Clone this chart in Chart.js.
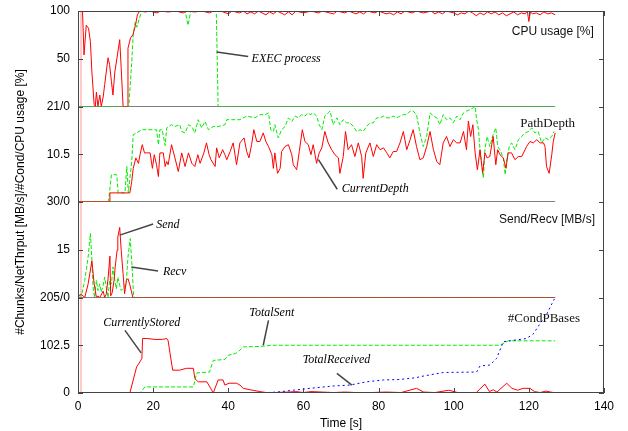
<!DOCTYPE html>
<html>
<head>
<meta charset="utf-8">
<script src="https://cdn.jsdelivr.net/npm/chart.js@4.4.1/dist/chart.umd.min.js"></script>
<style>
  html, body { margin: 0; padding: 0; background: #fff; }
  canvas { display: block; }
</style>
</head>
<body>
<canvas id="chart" width="628" height="431"></canvas>
<script>
// x axis
const timeRange = [0, 140];
const timeStep = 20;

// panel ranges (bottom to top) and their tick labels, lowest tick first
const storeRange = [0, 205];
const sendRange = [0, 30];
const depthRange = [0, 21];
const cpuRange = [0, 100];
const storeTickLabels = ['0', '102.5', ''];
const sendTickLabels = ['205/0', '15', ''];
const depthTickLabels = ['30/0', '10.5', ''];
const cpuTickLabels = ['21/0', '50', '100'];

// series, [time s, value]
const cpuUsage = [
  [0.8,100],[1.2,100],[1.6,54],[2.2,85],[2.8,82],[3.3,68],[3.7,36],[4.3,2],[4.6,0],[4.9,15],[5.3,0],[5.8,12],
  [6.2,0],[6.7,10],[7.1,23],[8,51],[8.4,44],[8.9,26],[9.3,12],[9.8,36],[10.5,54],[11.1,70],[11.5,40],[12,0],
  [13.2,0],[13.3,61],[14,72],[14.6,75],[15.3,85],[15.8,96],[16.4,100],[18,99],[19,100],[21,98],[22,100],
  [24,99],[26,100],[28,98],[29,100],[31,99],[33,100],[35,98],[36,100],[38,100],[40,97],[41,100],[43,98],
  [44,100],[45,97],[46,99],[47,97],[48,100],[50,96],[51,99],[52,97],[53,100],[55,96],[56,99],[57,96],
  [58,100],[60,98],[62,100],[64,98],[65,100],[67,98],[68,97],[69,100],[71,98],[72,100],[74,97],[75,99],
  [76,97],[77,100],[79,98],[80,100],[82,97],[83,98],[84,96],[85,99],[86,97],[87,100],[89,98],[90,100],
  [92,98],[94,100],[95,97],[96,99],[97,97],[98,100],[100,98],[101,96],[102,98],[103,97],[104,100],[105,98],
  [106,95],[107,98],[108,96],[109,99],[110,97],[111,99],[112,96],[113,98],[114,95],[115,97],[116,99],
  [117,96],[118,98],[119,97],[119.6,100],[120,89],[120.4,99],[121,97],[122,98],[123,96],[124,99],[125,97],
  [126,98],[127,96]
];
const execProcess = [
  [0,0],[13.5,0],[14.2,40],[14.7,75],[15.2,88],[15.7,83],[16.3,92],[17,100],[28.5,100],[29.3,85],[30,100],
  [36.8,100],[37.3,0],[127,0]
];
const currentDepth = [
  [0,0],[8.5,0],[8.5,2],[13.8,2],[14.3,4.5],[14.7,7.4],[15.4,9.7],[16.1,8.5],[16.5,10.4],[17.1,12.6],
  [17.7,10.8],[18.3,10.8],[19.2,10.8],[19.8,7.4],[20.3,10.4],[20.9,8.2],[21.4,5.6],[21.8,10.8],[22.7,10.8],
  [23.2,7.8],[23.6,8.9],[24,8.2],[24.9,12.6],[25.8,9.7],[26.7,6.7],[27.6,10.8],[28.5,7.8],[29.4,10.8],
  [30.3,8.5],[31.1,7.8],[31.9,10.4],[32.5,8.5],[33.5,10.8],[34.2,13],[34.9,10.4],[35.4,9.3],[36.5,7.8],
  [36.9,11.9],[37.6,9.7],[38.5,11.5],[39.1,10.4],[39.6,9.3],[40.5,11.1],[41.3,13],[42.2,8.2],[43.1,13],
  [44.2,14.1],[44.9,11.1],[45.5,9.7],[46.2,12.6],[46.8,15.9],[47.6,13.3],[48.4,13.3],[49.3,15.2],[50,13.3],
  [50.7,12.2],[51.6,10.4],[52,7.4],[52.4,10.8],[53.1,6.3],[53.8,7.4],[54.2,11.1],[55.1,12.2],[56,12.6],
  [56.9,10.4],[57.3,8.2],[58.2,7.1],[58.9,11.1],[59.7,15.9],[60.4,13.3],[61.3,12.6],[62,10.4],[62.6,12.6],
  [63.5,8.5],[64.2,10.8],[64.9,11.9],[65.7,15.5],[66.6,13],[67.5,11.5],[68.4,10.4],[69.3,9.7],[69.7,6.3],
  [70.6,10],[71.2,15.5],[71.9,11.5],[72.8,12.6],[73.7,10],[74.6,13],[75.5,10],[75.9,5.2],[76.6,10.8],
  [77.7,13],[78.6,10],[79.5,12.6],[80.4,11.5],[81.3,11.9],[82.2,10.8],[83,9.7],[83.9,11.1],[84.8,11.1],
  [85.7,13],[86.6,15.5],[87.5,11.5],[88.4,13.7],[89.2,15.9],[90.1,12.2],[91,9.3],[91.9,9.7],[92.8,12.2],
  [93.7,15.5],[94.6,11.5],[95.5,8.9],[96.3,8.2],[97.2,13],[98.1,14.4],[99,12.2],[99.9,13.7],[100.8,13],
  [101.7,13],[102.6,15.5],[103.4,11.5],[103.9,17.8],[104.5,14.4],[105.1,17],[105.7,10.8],[106.3,7.1],
  [107,11.5],[107.7,6.3],[108.3,10.8],[108.9,9.7],[109.6,10],[110.5,14.4],[111.2,8.2],[111.7,11.5],
  [112.3,10.4],[113.2,9.7],[113.9,7.4],[114.5,10.8],[115.4,10.8],[116.3,9.3],[117.2,10],[118.1,10],
  [119.4,12.2],[120.3,13.3],[121.2,13],[122.1,13.7],[123,13],[123.9,13],[124.3,12.2],[124.7,7.8],
  [125.4,6.3],[126.1,10.4],[126.5,13.3],[127,15.2]
];
const pathDepth = [
  [0,0],[8.1,0],[8.9,6],[10.3,6],[10.7,2],[12.5,2],[13,7.8],[13.4,2],[14.3,8.9],[14.7,14.8],[15.6,15.2],
  [17,15.9],[20.9,15.9],[21.4,12.6],[21.8,15.9],[22.4,15.9],[23.2,12.4],[23.6,16.3],[24.9,17],[25.8,16.6],
  [27.1,17],[27.6,15.5],[28.5,15.2],[29.4,17],[30.3,16.6],[31.1,15.2],[32,18.1],[32.9,16.3],[33.8,17.7],
  [34.7,15.9],[36,16.6],[37.4,16.6],[39.1,17],[39.6,18.1],[43.1,18.1],[44.9,18.9],[47.1,18.5],[48.4,19.2],
  [49.8,19.2],[50.7,19.6],[51.3,15.9],[52,15.5],[52.4,17],[53.3,14.1],[54.2,15.9],[55.1,16.6],[56,18.5],
  [56.9,17.7],[57.8,18.9],[58.7,18.5],[59.5,19.2],[60.4,18.9],[61.3,19.6],[61.8,19.2],[62.6,19.6],
  [63.5,18.9],[64.2,17],[64.9,15.9],[65.7,18.9],[66.6,19.6],[67.1,20],[67.9,17],[68.9,18.5],[69.7,17],
  [70.6,18.1],[71.5,17.4],[72.4,17.4],[73.3,16.6],[74.2,15.5],[75.1,15.9],[75.9,15.5],[76.8,16.6],
  [77.7,17.4],[78.6,17.4],[79.5,18.5],[80.4,18.5],[81.3,18.9],[82.2,18.5],[83,18.5],[83.9,18.9],
  [84.8,18.5],[85.7,18.9],[86.6,19.2],[87.5,19.2],[88.4,20],[89.2,20],[90.1,19.2],[91,15.2],[91.9,12.2],
  [92.8,14.4],[93.7,19.6],[94.6,18.9],[95.5,18.5],[96.3,17],[97.2,19.2],[98.1,18.1],[99,18.5],[99.9,17.4],
  [100.8,18.9],[101.7,18.1],[102.6,19.6],[103.4,20],[104.3,20.3],[105.2,20.7],[105.7,21],[106.1,18.1],
  [106.6,15.9],[107,11.5],[107.5,7.8],[107.9,5.2],[108.3,11.5],[108.9,14.4],[109.6,12.2],[110.5,14.8],
  [111.2,16.3],[111.7,12.2],[112.3,11.5],[113.2,9.7],[113.7,6],[114.1,9.3],[114.8,12.2],[115.4,13],
  [116.3,11.5],[117.2,13.7],[118.1,14.4],[119,15.2],[119.9,15.5],[120.8,16.3],[121.6,15.2],[122.5,15.5],
  [123.4,13],[124.3,14.1],[125.2,13.7],[126.1,14.4],[126.7,15.5]
];
const sendRate = [
  [0,0.5],[0.9,1],[1.8,0],[2.7,4.3],[3.7,11.5],[4.3,4.3],[4.9,0],[5.3,0.5],[5.8,0],[6.7,2],[7.1,0],[7.5,1],
  [8,5.9],[8.5,13],[8.7,0.5],[9.1,1.5],[9.6,5.4],[9.9,9.6],[10.4,14.8],[10.6,19],[11.1,22],[11.5,14.8],
  [12,7.5],[12.4,1.2],[12.9,5.4],[13.3,5.9],[13.8,4],[14.2,2],[14.6,0],[127,0]
];
const recvRate = [
  [0,0.5],[0.9,0.5],[1.8,5.4],[2.7,12.7],[3.3,20.1],[3.7,11.7],[4,3.3],[4.4,0],[4.9,5.4],[5.3,2.2],[5.8,4.3],
  [6.2,1.7],[6.7,3.8],[7.1,6.4],[7.5,3.3],[8,0],[8.4,5.4],[8.9,4.3],[9.3,9.6],[9.8,5.4],[10.2,2.7],[10.6,6.4],
  [11.1,3.8],[11.5,2.2],[12.4,3.3],[12.9,5.4],[13.3,12.7],[13.9,18.5],[14.4,9.6],[14.8,0.3],[15.2,0],[127,0]
];
const currentlyStored = [
  [0,0],[13.8,0],[14.7,28],[15.6,56],[16.5,67],[17,74],[17.2,117],[18.3,117],[20.5,115],[22.5,115],
  [23.6,117],[24,112],[24.5,85],[25.2,49],[27,49],[28.9,53],[30.7,53],[31.1,31],[32,24],[34.3,24],[35.1,13],
  [36,0],[37.3,28],[38.6,28],[39.1,17],[40.2,21],[42.2,21],[43.1,17],[44,10],[45.8,7],[48.4,3],[50.1,1],
  [52,1],[56,2],[58,3],[60,1],[62,3],[65,2],[68,1],[71,2],[74,1],[78,1],[82,2],[86,1],[90.1,10],[92,2],
  [95,1],[98.7,6],[101,1],[104,1],[106,1],[108.3,19],[109.5,3],[110.5,7],[111.5,2],[114.1,21],[115.5,10],
  [117,6],[118.5,10],[120.3,10],[121.5,3],[123,1],[124.5,4],[126.5,1],[127,0]
];
const totalSent = [
  [0,0],[16.5,0],[17.8,13],[30.7,13],[31.6,43],[35,45],[36,70],[39.1,72],[40,81],[42,85],[43.1,92],[44,99],
  [48.4,100],[50,101],[51.6,102.5],[112.3,102.5],[114.5,112],[127,112]
];
const totalReceived = [
  [0,0],[48,0],[53,2],[57.3,6],[61.7,10],[67.9,15],[72.4,17],[76.8,24],[81.3,28],[85.7,29],[90.1,33],[91,35],
  [97.2,44],[106.1,45],[107,58],[109.6,60],[111.4,74],[113.2,110],[115,112],[119.4,117],[121.2,127],
  [123,149],[124.8,170],[126.1,191],[126.8,202]
];
const traceEnd = 127;   // panel base lines run to the end of the trace
const startMarker = 0.8; // thin vertical line at trace start

const sans = '"Liberation Sans", Arial, sans-serif';
const serif = '"Liberation Serif", "Times New Roman", serif';

// labelled arrows, in data coordinates of their panel
const notes = [
  { text: 'EXEC process', axis: 'yCpu', at: [46.2, 50], from: [36.9, 57], to: [45.3, 52.4] },
  { text: 'CurrentDepth', axis: 'yDepth', at: [70.2, 3.0], from: [64, 9.3], to: [69, 2.8] },
  { text: 'Send', axis: 'ySend', at: [20.8, 22.7], from: [11.1, 19.6], to: [20, 23.1] },
  { text: 'Recv', axis: 'ySend', at: [22.6, 8], from: [14.2, 9.6], to: [21.3, 8.3] },
  { text: 'CurrentlyStored', axis: 'yStore', at: [6.7, 150], from: [12.5, 134.5], to: [16.8, 86] },
  { text: 'TotalSent', axis: 'yStore', at: [45.6, 171], from: [50.7, 156], to: [49.3, 102.5] },
  { text: 'TotalReceived', axis: 'yStore', at: [59.8, 72], from: [68.9, 42], to: [72.9, 17] }
];
const panelKeys = [
  { text: 'CPU usage [%]', axis: 'yCpu', at: [137.3, 78], font: '12px ' + sans },
  { text: 'PathDepth', axis: 'yDepth', at: [132.3, 17.2], font: '13px ' + serif },
  { text: 'Send/Recv [MB/s]', axis: 'ySend', at: [137.6, 24.3], font: '12px ' + sans },
  { text: '#CondPBases', axis: 'yStore', at: [133.6, 160], font: '13px ' + serif }
];

const toPoints = pairs => pairs.map(([x, y]) => ({ x, y }));

function series(pairs, axis, color, dash) {
  return {
    data: toPoints(pairs),
    yAxisID: axis,
    borderColor: color,
    borderWidth: 1,
    borderDash: dash || [],
    pointRadius: 0,
    fill: false,
    tension: 0
  };
}

const RED = '#ff0000';
const GREEN = '#00ee00';
const BLUE = '#0000ff';
const GDASH = [4, 2];
const BDASH = [2, 3];

const panels = [
  { id: 'yStore', range: storeRange, labels: storeTickLabels },
  { id: 'ySend', range: sendRange, labels: sendTickLabels },
  { id: 'yDepth', range: depthRange, labels: depthTickLabels },
  { id: 'yCpu', range: cpuRange, labels: cpuTickLabels }
];

const datasets = [
  series(cpuUsage, 'yCpu', RED),
  series(execProcess, 'yCpu', GREEN, GDASH),
  series(currentDepth, 'yDepth', RED),
  series(pathDepth, 'yDepth', GREEN, GDASH),
  series(sendRate, 'ySend', RED),
  series(recvRate, 'ySend', GREEN, GDASH),
  series(totalReceived, 'yStore', BLUE, BDASH),
  series(currentlyStored, 'yStore', RED),
  series(totalSent, 'yStore', GREEN, GDASH)
];
// black base line of each upper panel
['yCpu', 'yDepth', 'ySend'].forEach(id => {
  datasets.push(series([[0, 0], [traceEnd, 0]], id, '#000000'));
});
// start marker through every panel
panels.forEach(p => {
  datasets.push(series([[startMarker, p.range[0]], [startMarker, p.range[1]]], p.id, 'rgba(255,80,80,0.6)'));
});

const scales = {
  x: {
    type: 'linear',
    min: timeRange[0],
    max: timeRange[1],
    grid: { display: false, drawTicks: false },
    border: { display: false },
    ticks: { stepSize: timeStep, padding: 6, color: '#000', font: { family: sans, size: 12 } },
    title: { display: true, text: 'Time [s]', color: '#000', padding: { top: 0, bottom: 0 }, font: { family: sans, size: 12 } },
    afterFit: s => { s.height = 38; s.paddingLeft = 0; s.paddingRight = 0; }
  }
};
panels.forEach(p => {
  scales[p.id] = {
    type: 'linear',
    position: 'left',
    stack: 'panels',
    stackWeight: 1,
    min: p.range[0],
    max: p.range[1],
    grid: { display: false, drawTicks: false },
    border: { display: false },
    ticks: {
      stepSize: (p.range[1] - p.range[0]) / 2,
      padding: 8,
      color: '#000',
      font: { family: sans, size: 12 },
      callback: (v, i) => p.labels[i]
    },
    afterFit: s => { s.width = 78; s.paddingTop = 0; s.paddingBottom = 0; }
  };
});

const framePlugin = {
  id: 'frame',
  afterDatasetsDraw(chart) {
    const { ctx, chartArea: a } = chart;
    ctx.save();
    ctx.strokeStyle = '#444';
    ctx.lineWidth = 1;
    ctx.strokeRect(a.left + 0.5, a.top + 0.5, a.right - a.left - 1, a.bottom - a.top - 1);
    // inward tick marks
    ctx.beginPath();
    panels.forEach(p => {
      const sc = chart.scales[p.id];
      sc.ticks.forEach(t => {
        const y = Math.round(sc.getPixelForValue(t.value)) + 0.5;
        ctx.moveTo(a.left, y); ctx.lineTo(a.left + 5, y);
        ctx.moveTo(a.right - 5, y); ctx.lineTo(a.right, y);
      });
    });
    const xs = chart.scales.x;
    xs.ticks.forEach(t => {
      const x = Math.round(xs.getPixelForValue(t.value)) + 0.5;
      ctx.moveTo(x, a.bottom); ctx.lineTo(x, a.bottom - 5);
      ctx.moveTo(x, a.top); ctx.lineTo(x, a.top + 5);
    });
    ctx.stroke();

    // labels and arrows
    ctx.fillStyle = '#000';
    ctx.textBaseline = 'middle';
    notes.forEach(n => {
      const sc = chart.scales[n.axis];
      ctx.beginPath();
      ctx.lineWidth = 1.5;
      ctx.moveTo(xs.getPixelForValue(n.from[0]), sc.getPixelForValue(n.from[1]));
      ctx.lineTo(xs.getPixelForValue(n.to[0]), sc.getPixelForValue(n.to[1]));
      ctx.stroke();
      ctx.font = 'italic 12px ' + serif;
      ctx.textAlign = 'left';
      ctx.fillText(n.text, xs.getPixelForValue(n.at[0]), sc.getPixelForValue(n.at[1]));
    });
    panelKeys.forEach(k => {
      const sc = chart.scales[k.axis];
      ctx.font = k.font;
      ctx.textAlign = 'right';
      ctx.fillStyle = '#111';
      ctx.fillText(k.text, xs.getPixelForValue(k.at[0]), sc.getPixelForValue(k.at[1]));
    });

    // shared y title
    ctx.translate(21, (a.top + a.bottom) / 2);
    ctx.rotate(-Math.PI / 2);
    ctx.font = '12px ' + sans;
    ctx.textAlign = 'center';
    ctx.fillStyle = '#000';
    ctx.fillText('#Chunks/NetThrput [MB/s]/#Cond/CPU usage [%]', 0, 0);
    ctx.restore();
  }
};

new Chart(document.getElementById('chart'), {
  type: 'line',
  data: { datasets },
  options: {
    responsive: false,
    animation: false,
    layout: { padding: { left: 0, right: 24, top: 11, bottom: 0 } },
    plugins: { legend: { display: false }, tooltip: { enabled: false } },
    scales
  },
  plugins: [framePlugin]
});
</script>
</body>
</html>
